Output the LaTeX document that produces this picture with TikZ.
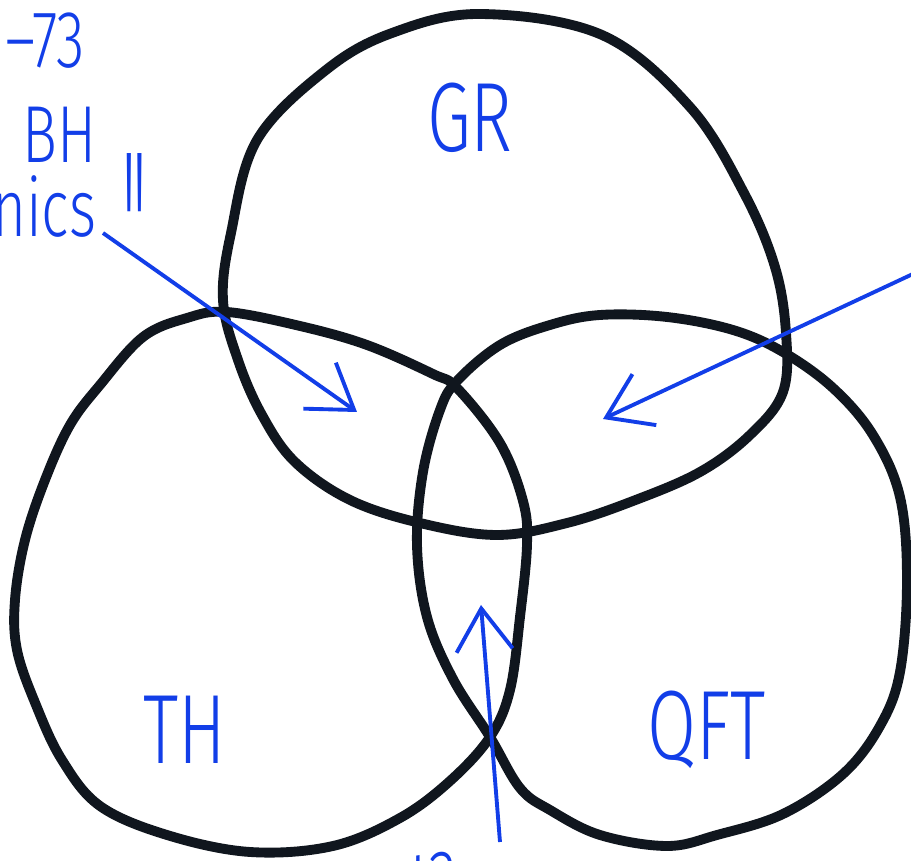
\documentclass[tikz,border=0pt]{standalone}
\usepackage{fontspec}
\usepackage{graphicx}
\newfontfamily\hand[FakeStretch=0.72]{Fira Sans Light}
\usetikzlibrary{arrows.meta}
\definecolor{ink}{RGB}{16,22,30}
\definecolor{pen}{RGB}{18,62,232}
\tikzset{
  loop/.style={draw=ink, line width=2.8pt, line join=round},
  ptr/.style={draw=pen, line width=1.1pt, -{Straight Barb[length=12pt,width=16pt,line width=1.1pt]}},
  lbl/.style={text=pen, inner sep=0pt, font=\hand\fontsize{28}{30}\selectfont},
  note/.style={text=pen, inner sep=0pt, font=\hand\fontsize{23}{26}\selectfont},
}
\begin{document}
\begin{tikzpicture}[x=0.01cm,y=-0.01cm]
\useasboundingbox (0,0) rectangle (911,861);
% GR
\draw[loop] plot[smooth cycle, tension=0.6] coordinates {
 (480,14) (602,35) (690,107) (744,193) (775,267) (786,333) (783,392) (750,435)
 (700,472) (633,501) (567,523) (497,535) (420,523) (350,500) (295,462) (262,415)
 (238,360) (223,300) (231,233) (257,140) (326,70) (392,33)};
% TH
\draw[loop] plot[smooth cycle, tension=0.6] coordinates {
 (227,312) (300,326) (367,345) (433,374) (457,388) (500,443) (523,501) (527,545)
 (520,617) (510,690) (490,737) (450,781) (400,818) (333,846) (250,852) (167,835)
 (100,806) (62,760) (36,705) (17,650) (15,600) (25,540) (45,480) (70,425)
 (100,385) (143,337) (187,318)};
% QFT
\draw[loop] plot[smooth cycle, tension=0.6] coordinates {
 (600,315) (667,317) (733,330) (783,352) (833,388) (873,435) (900,497) (907,581)
 (900,672) (880,726) (843,774) (783,814) (717,835) (667,846) (600,835) (550,810)
 (520,788) (490,737) (453,679) (427,617) (417,545) (423,472) (440,410) (457,381)
 (500,345) (550,325)};
% labels
\node[lbl] (gr) at (470,118) {GR};
\node[lbl] (th) at (185,730) {TH};
\node[lbl] (qft) at (707,730) {QFT};
\node[note, anchor=base east] (yr) at (86,68) {–73};
\node[note, anchor=base east] (bh) at (97,163) {of\hspace{12pt}BH};
\node[note, anchor=base east] (mech) at (97,237) {mechanics};
\node[text=pen, inner sep=0pt, font=\hand\fontsize{44}{46}\selectfont, anchor=north west] (q) at (122,153) {\scalebox{0.6}[1.5]{"}};
\node[note, anchor=north west] (low) at (410,852) {t?};
% arrows
\coordinate (a1s) at (103,233);
\coordinate (a1e) at (357,412);
\coordinate (a2s) at (915,273);
\coordinate (a2e) at (603,419);
\coordinate (a3s) at (500,842);
\coordinate (a3e) at (481,605);
\draw[ptr] (a1s) -- (a1e);
\draw[ptr] (a2s) -- (a2e);
\draw[ptr] (a3s) -- (a3e);
\end{tikzpicture}
\end{document}
